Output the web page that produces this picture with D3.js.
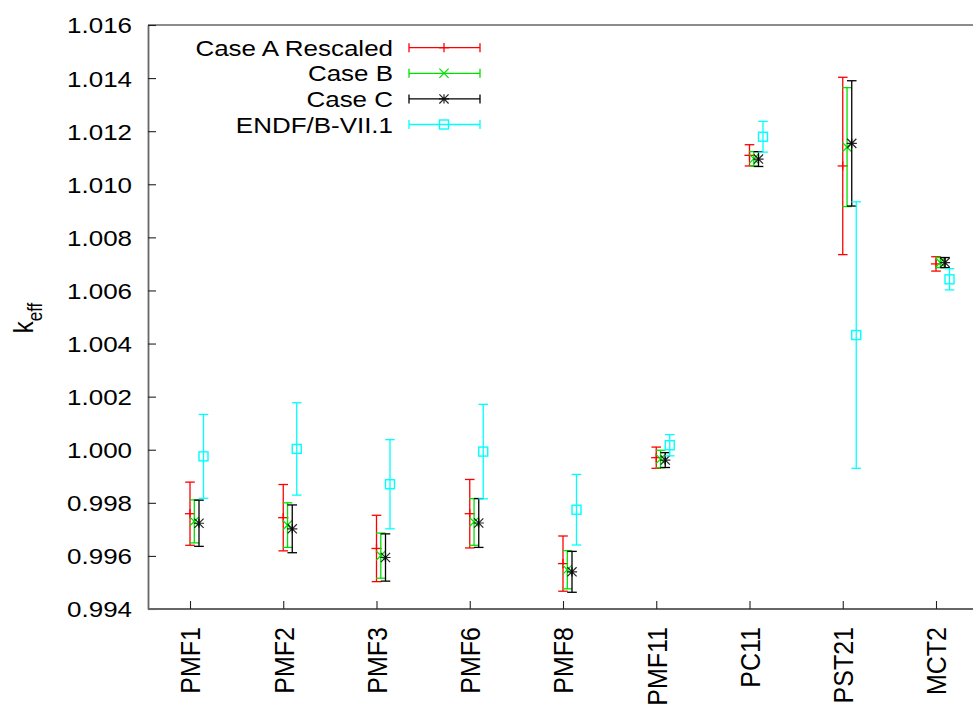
<!DOCTYPE html>
<html>
<head>
<meta charset="utf-8">
<script src="https://cdn.jsdelivr.net/npm/d3@7"></script>
<style>
  html, body { margin: 0; padding: 0; background: #fff; }
  svg { display: block; font-family: "Liberation Sans", Arial, Helvetica, sans-serif; }
</style>
</head>
<body>
<svg id="chart" width="973" height="706"></svg>
<script>
// Benchmark labels
const categories = ["PMF1", "PMF2", "PMF3", "PMF6", "PMF8", "PMF11", "PC11", "PST21", "MCT2"];

// k-eff values and one-sigma uncertainties per calculation case
const caseA    = [0.99759, 0.99744, 0.99628, 0.99759, 0.99571, 0.99970, 1.01109, 1.01069, 1.00700];
const caseAErr = [0.00119, 0.00125, 0.00125, 0.00129, 0.00104, 0.00040, 0.00040, 0.00334, 0.00027];
const caseB    = [0.99730, 0.99716, 0.99601, 0.99728, 0.99548, 0.99965, 1.01096, 1.01140, 1.00705];
const caseBErr = [0.00081, 0.00084, 0.00085, 0.00088, 0.00072, 0.00033, 0.00027, 0.00224, 0.00019];
const caseC    = [0.99723, 0.99702, 0.99594, 0.99724, 0.99540, 0.99961, 1.01095, 1.01154, 1.00705];
const caseCErr = [0.00087, 0.00090, 0.00089, 0.00092, 0.00077, 0.00028, 0.00028, 0.00236, 0.00019];
const endf     = [0.99975, 1.00003, 0.99870, 0.99993, 0.99774, 1.00017, 1.01179, 1.00432, 1.00642];
const endfErr  = [0.00158, 0.00174, 0.00168, 0.00178, 0.00133, 0.00040, 0.00058, 0.00502, 0.00040];

// Y axis tick values
const yTicks = [0.994, 0.996, 0.998, 1.000, 1.002, 1.004, 1.006, 1.008, 1.010, 1.012, 1.014, 1.016];

const seriesList = [
  { name: "Case A Rescaled", values: caseA, errors: caseAErr, color: "#ff0000", marker: "plus",   shift: 0 },
  { name: "Case B",          values: caseB, errors: caseBErr, color: "#00e000", marker: "cross",  shift: 4.3 },
  { name: "Case C",          values: caseC, errors: caseCErr, color: "#000000", marker: "star",   shift: 9 },
  { name: "ENDF/B-VII.1",    values: endf,  errors: endfErr,  color: "#00ffff", marker: "square", shift: 13.5 }
];

const svg = d3.select("#chart");
const plotLeft = 148, plotTop = 25, plotBottom = 609, plotRight = 990;
const sx = 1.18; // horizontal text stretch

const x = d3.scaleLinear().domain([0, categories.length - 1]).range([190, 936]);
const y = d3.scaleLinear().domain([0.994, 1.016]).range([plotBottom, plotTop]);

// Frame: top border and the two axes
svg.append("line").attr("x1", plotLeft).attr("x2", plotRight).attr("y1", plotTop).attr("y2", plotTop)
  .attr("stroke", "#666").attr("stroke-width", 1.6);

const yAxis = svg.append("g").attr("transform", `translate(${plotLeft},0)`)
  .call(d3.axisLeft(y).tickValues(yTicks).tickFormat(d3.format(".3f")).tickSize(-8).tickSizeOuter(0));
yAxis.select(".domain").attr("stroke", "#666").attr("stroke-width", 1.8);
yAxis.selectAll(".tick line").attr("stroke", "#222").attr("stroke-width", 1.1);
yAxis.selectAll(".tick text")
  .attr("x", null).attr("dy", "0.36em")
  .attr("text-anchor", "end")
  .attr("fill", "#000")
  .style("font-size", "22px")
  .attr("font-family", null)
  .attr("transform", `translate(${132 - plotLeft},0) scale(${sx},1)`);

const xAxis = svg.append("g").attr("transform", `translate(0,${plotBottom})`)
  .call(d3.axisBottom(x).tickValues(d3.range(categories.length)).tickFormat(i => categories[i]).tickSize(-8).tickSizeOuter(0));
xAxis.select(".domain").attr("d", `M${plotLeft},0H${plotRight}`).attr("stroke", "#666").attr("stroke-width", 1.8);
xAxis.selectAll(".tick line").attr("stroke", "#222").attr("stroke-width", 1.1);
xAxis.selectAll(".tick text")
  .attr("y", null).attr("dy", "0.36em")
  .attr("text-anchor", "end")
  .attr("fill", "#000")
  .style("font-size", "25px")
  .attr("font-family", null)
  .attr("transform", `translate(0,18) scale(1.1,1) rotate(-90)`);

// Y axis title: k_eff
const yTitle = svg.append("text")
  .attr("transform", `translate(33,318) scale(${sx},1) rotate(-90)`)
  .attr("text-anchor", "middle")
  .style("font-size", "24px");
yTitle.append("tspan").text("k");
yTitle.append("tspan").attr("dy", "7.5").style("font-size", "17px").text("eff");

// Marker drawing
function drawMarker(g, type, cx, cy, color) {
  const r = 4.6;
  if (type === "plus") {
    g.append("line").attr("x1", cx - r - 0.5).attr("x2", cx + r + 0.5).attr("y1", cy).attr("y2", cy)
      .attr("stroke", color).attr("stroke-width", 1.3);
    g.append("line").attr("x1", cx).attr("x2", cx).attr("y1", cy - r).attr("y2", cy + r)
      .attr("stroke", color).attr("stroke-width", 1.3);
  } else if (type === "cross") {
    g.append("path").attr("d", `M${cx - r},${cy - r}L${cx + r},${cy + r}M${cx - r},${cy + r}L${cx + r},${cy - r}`)
      .attr("stroke", color).attr("stroke-width", 1.2).attr("fill", "none");
  } else if (type === "star") {
    g.append("path").attr("d",
      `M${cx - r},${cy - r}L${cx + r},${cy + r}M${cx - r},${cy + r}L${cx + r},${cy - r}` +
      `M${cx - r - 0.5},${cy}L${cx + r + 0.5},${cy}M${cx},${cy - r}L${cx},${cy + r}`)
      .attr("stroke", color).attr("stroke-width", 1.2).attr("fill", "none").attr("opacity", 0.85);
  } else if (type === "square") {
    g.append("rect").attr("x", cx - 4.5).attr("y", cy - 4.5).attr("width", 9).attr("height", 9)
      .attr("stroke", color).attr("stroke-width", 1.4).attr("fill", "none");
  }
}

// Error bars with caps and markers
const plot = svg.append("g");
seriesList.forEach(s => {
  const g = plot.append("g");
  s.values.forEach((v, i) => {
    const cx = x(i) + s.shift;
    const y1 = y(v + s.errors[i]), y0 = y(v - s.errors[i]);
    g.append("line").attr("x1", cx).attr("x2", cx).attr("y1", y1).attr("y2", y0)
      .attr("stroke", s.color).attr("stroke-width", 1.3);
    [y1, y0].forEach(yy => {
      g.append("line").attr("x1", cx - 4.8).attr("x2", cx + 4.8).attr("y1", yy).attr("y2", yy)
        .attr("stroke", s.color).attr("stroke-width", 1.3);
    });
    drawMarker(g, s.marker, cx, y(v), s.color);
  });
});

// Legend
const legend = svg.append("g");
seriesList.forEach((s, k) => {
  const cy = 47.7 + k * 25.6;
  legend.append("text")
    .attr("transform", `translate(393,${cy + 8}) scale(${sx},1)`)
    .attr("text-anchor", "end")
    .style("font-size", "22px")
    .text(s.name);
  legend.append("line").attr("x1", 409).attr("x2", 480).attr("y1", cy).attr("y2", cy)
    .attr("stroke", s.color).attr("stroke-width", 1.3);
  [409, 480].forEach(xx => {
    legend.append("line").attr("x1", xx).attr("x2", xx).attr("y1", cy - 4.5).attr("y2", cy + 4.5)
      .attr("stroke", s.color).attr("stroke-width", 1.3);
  });
  drawMarker(legend, s.marker, 444, cy, s.color);
});
</script>
</body>
</html>
